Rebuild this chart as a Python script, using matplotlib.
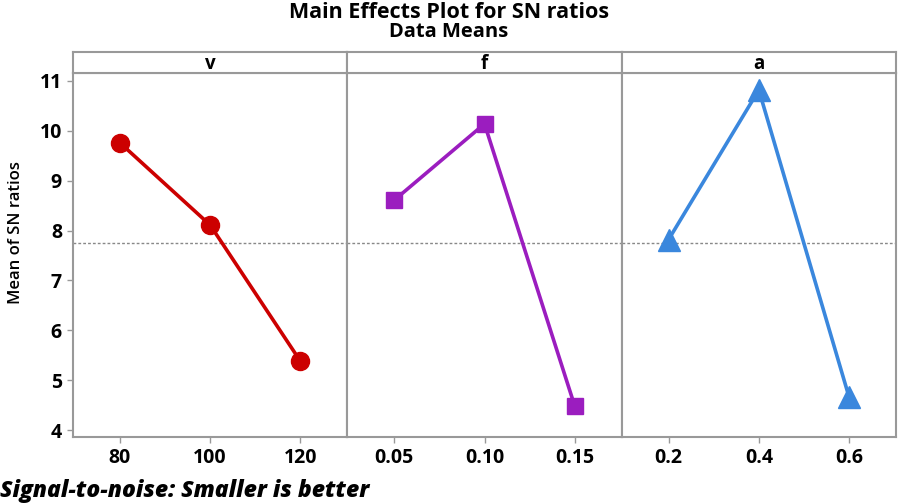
import numpy as np
import matplotlib.pyplot as plt

plt.rcParams['font.family'] = ['Open Sans', 'DejaVu Sans']

factors = ["v", "f", "a"]
levels = [["80", "100", "120"], ["0.05", "0.10", "0.15"], ["0.2", "0.4", "0.6"]]
sn_v = [9.76, 8.11, 5.38]
sn_f = [8.61, 10.14, 4.48]
sn_a = [7.82, 10.82, 4.66]
means = [sn_v, sn_f, sn_a]
colors = ["#CC0000", "#9B1DBF", "#3A87DD"]
markers = ["o", "s", "^"]
msizes = [13, 11, 16]
grand_mean = np.mean(sn_v + sn_f + sn_a)

fig = plt.figure(figsize=(8.98, 5.03), dpi=100)
left, right, bottom, top, strip_top = 73/898, 896/898, 1-437/503, 1-73/503, 1-52/503
w = (right - left) / 3
edge = "#999999"

for i in range(3):
    ax = fig.add_axes([left + i*w, bottom, w, top - bottom])
    x = np.arange(1, 4)
    ax.plot(x, means[i], color=colors[i], lw=2.6, marker=markers[i], ms=msizes[i], zorder=3)
    ax.axhline(grand_mean, color="#888888", ls=(0, (2, 1.5)), lw=1, zorder=1)
    ax.set_xlim(0.48, 3.52)
    ax.set_ylim(3.86, 11.16)
    ax.set_xticks(x)
    ax.set_xticklabels(levels[i], fontsize=14, fontweight="bold")
    ax.set_yticks(range(4, 12))
    if i == 0:
        ax.set_yticklabels([str(t) for t in range(4, 12)], fontsize=14, fontweight="bold")
    else:
        ax.tick_params(axis="y", left=False, labelleft=False)
    ax.tick_params(colors=edge, labelcolor="black", length=4, width=1, pad=4)
    for s in ax.spines.values():
        s.set_color(edge)
        s.set_linewidth(1.5)

    sax = fig.add_axes([left + i*w, top, w, strip_top - top])
    sax.set_xticks([])
    sax.set_yticks([])
    for s in sax.spines.values():
        s.set_color(edge)
        s.set_linewidth(1.5)
    sax.text(0.5, 0.45, factors[i], ha="center", va="center", fontsize=13.5,
             fontweight="bold", transform=sax.transAxes)

fig.text(0.5, 1-12/503, "Main Effects Plot for SN ratios", ha="center", va="center",
         fontsize=15.5, fontweight="bold")
fig.text(0.5, 1-32/503, "Data Means", ha="center", va="center", fontsize=14.5, fontweight="bold")
fig.text(16/898, 1-232/503, "Mean of SN ratios", ha="center", va="center", rotation=90,
         fontsize=12, fontweight="semibold")
fig.text(0.0, 1-491/503, "Signal-to-noise: Smaller is better", ha="left", va="center",
         fontsize=16.5, fontweight="heavy", style="italic")

fig.savefig("out.png", dpi=100)
